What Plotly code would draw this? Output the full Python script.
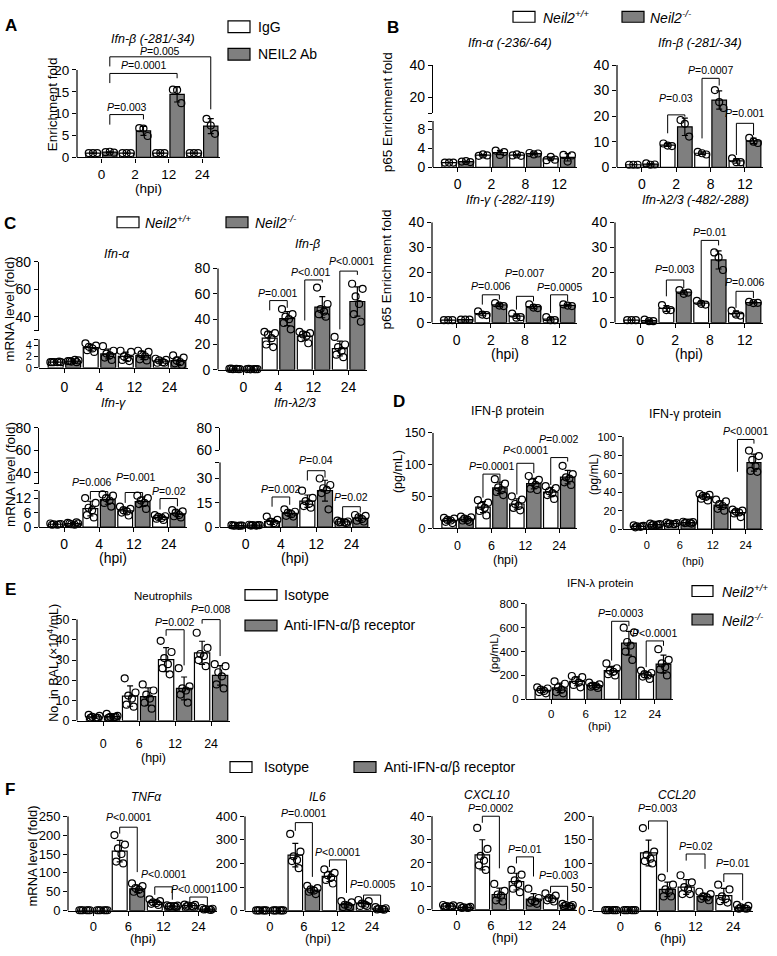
import numpy as np
import plotly.graph_objects as go

W, H = 777, 956
FONT = "Liberation Sans, Arial, Helvetica, sans-serif"
GRAY = "#7f7f7f"
JIT3 = [-0.25, 0.0, 0.25]
JIT6 = [-0.3, 0.3, -0.1, 0.1, -0.2, 0.2]


def fx(px):
    return px / W


def fy(py):
    return 1 - py / H


# ---------------- data ----------------
A_groups = ["0", "2", "12", "24"]
A_igg = [[1.0, 1.0, 1.0], [1.0, 1.0, 1.0], [1.0, 1.0, 1.0], [1.0, 1.0, 1.0]]
A_neil2 = [[1.2, 1.3, 1.1], [6.7, 6.6, 4.9], [15.5, 15.4, 12.4], [8.8, 7.3, 5.4]]
A_br = [(1, 3, 9.8, 7.5, 8.7, "P=0.003"), (1, 5, 19.2, 17.0, 18.1, "P=0.0001"),
        (1, 7, 23.0, 20.8, 11.0, "P=0.005", -2)]

B_groups = ["0", "2", "8", "12"]
B_ifna_wt = [[1.0, 1.0, 1.0], [2.4, 2.7, 2.5], [2.5, 2.7, 2.4], [1.5, 2.2, 1.6]]
B_ifna_ko = [[1.2, 1.3, 1.1], [3.5, 2.6, 3.2], [3.0, 2.7, 2.9], [2.6, 1.2, 2.5]]
B_ifnb_wt = [[1.0, 1.0, 1.0], [9.3, 8.5, 8.3], [6.0, 5.5, 5.0], [3.5, 2.0, 2.0]]
B_ifnb_ko = [[1.5, 1.0, 1.1], [18.5, 17.0, 12.0], [30.2, 25.5, 23.2], [11.5, 10.0, 9.5]]
B_ifnb_br = [(2, 3, 20.5, 13.3, 19.8, "P=0.03", 9), (4, 5, 34.8, 11.3, 32.0, "P=0.0007"),
             (6, 7, 17.2, 4.8, 12.6, "P=0.001", 2)]
B_ifng_wt = [[1.0, 1.0, 1.0], [4.5, 3.2, 3.0], [3.6, 2.0, 2.2], [2.2, 1.0, 1.0]]
B_ifng_ko = [[1.2, 1.2, 1.2], [7.8, 6.8, 6.6], [7.3, 6.0, 5.8], [7.3, 6.8, 6.6]]
B_ifng_br = [(2, 3, 11.1, 7.2, 9.2, "P=0.006", 1), (4, 5, 10.5, 5.2, 8.5, "P=0.007", 15),
             (6, 7, 11.1, 3.9, 8.5, "P=0.0005")]
B_ifnl_wt = [[1.0, 1.0, 1.0], [7.0, 5.0, 5.0], [8.7, 7.5, 7.2], [4.8, 3.2, 2.8]]
B_ifnl_ko = [[1.2, 0.6, 0.6], [13.0, 11.5, 12.0], [28.0, 26.0, 21.0], [8.3, 7.8, 7.9]]
B_ifnl_br = [(2, 3, 17.0, 10.5, 13.8, "P=0.003", 3), (4, 5, 32.8, 7.2, 30.8, "P=0.01"),
             (6, 7, 12.5, 5.9, 9.8, "P=0.006", 1)]

C_groups = ["0", "4", "12", "24"]
C_ifna_wt = [[1.0, 1.0, 1.0, 1.0, 1.0, 1.1], [4.3, 3.9, 3.7, 3.4, 3.1, 2.8],
             [3.0, 2.8, 2.0, 1.7, 1.4, 1.2], [1.6, 1.4, 1.3, 1.0, 0.9, 0.9]]
C_ifna_ko = [[1.2, 1.3, 1.1, 1.4, 1.2, 1.0], [3.8, 3.0, 2.5, 2.2, 1.8, 1.4],
             [3.0, 2.8, 2.4, 2.0, 1.5, 1.3], [2.2, 1.8, 1.3, 1.0, 0.8, 0.5]]
C_ifnb_wt = [[0.8, 0.6, 0.5, 0.7, 0.9, 0.6], [30, 29, 28, 25, 20, 18],
             [30, 29, 28, 27, 25, 21], [26, 20, 18, 15, 12, 10]]
C_ifnb_ko = [[0.6, 0.5, 0.4, 0.6, 0.7, 0.5], [48, 44, 42, 40, 37, 32],
             [65, 52, 48, 46, 44, 42], [68, 64, 58, 52, 44, 38]]
C_ifnb_br = [(2, 3, 54.7, 47, 49, "P=0.001"), (4, 5, 71, 39, 69, "P&lt;0.001", 0, -3),
             (6, 7, 78, 32, 75, "P&lt;0.0001", 2, 3)]
C_ifng_wt = [[1.5, 1.3, 1.2, 1.0, 1.0, 1.2], [12, 10, 8, 7, 5, 4],
             [8.5, 7.5, 7, 6.5, 6, 4.8], [5, 4.5, 4.2, 3.8, 3.5, 3.0]]
C_ifng_ko = [[1.8, 1.5, 1.2, 1.0, 1.5, 2.0], [13.5, 13, 12, 11, 10, 8.5],
             [13, 12, 11, 10, 9.5, 7.5], [7, 6.5, 6, 5, 4.5, 4]]
C_ifng_br = [(2, 3, 14.7, 11.4, 12.6, "P=0.006", 2, -7), (4, 5, 14.3, 10, 12.6, "P=0.001", 7, 2),
             (6, 7, 11.8, 7.3, 8.6, "P=0.02")]
C_ifnl_wt = [[1.2, 1, 1, 0.8, 1, 1], [6.5, 4.5, 3.5, 2.5, 2, 2],
             [22.5, 18, 16, 14.5, 13, 12], [4, 3.5, 3.2, 3, 3, 2.5]]
C_ifnl_ko = [[1.5, 1.3, 1.2, 1, 1, 1.2], [11, 9.5, 9, 8, 7, 6.5],
             [30, 26, 24, 23, 21, 11], [7.5, 7, 6, 5, 4, 3.5]]
C_ifnl_br = [(2, 3, 18.6, 12.6, 13.8, "P=0.002"), (4, 5, 34.8, 28.8, 30.6, "P=0.04", 3),
             (6, 7, 12.6, 4.8, 9.0, "P=0.02", 2)]

D_groups = ["0", "6", "12", "24"]
D_ifnb_wt = [[16, 15, 13, 12, 10, 8], [44, 40, 35, 32, 27, 20],
             [50, 45, 38, 35, 32, 28], [66, 63, 58, 55, 52, 46]]
D_ifnb_ko = [[18, 17, 15, 13, 12, 10], [77, 70, 64, 60, 57, 52],
             [82, 76, 72, 68, 62, 60], [98, 85, 80, 78, 72, 68]]
D_ifnb_br = [(2, 3, 85, 48, 73, "P=0.0001"), (4, 5, 102, 53, 86.5, "P&lt;0.0001", 5),
             (6, 7, 111, 68, 104.7, "P=0.002", 11)]
D_ifng_wt = [[4, 3.5, 3, 2.5, 2, 3], [7, 6.5, 6, 5.5, 5.5, 5.5],
             [38, 37, 36, 35, 33, 31], [21, 20, 19, 18, 17, 13]]
D_ifng_ko = [[6, 5.5, 5, 4.5, 4, 5], [8, 7.5, 7, 7, 6.5, 6],
             [32, 30, 27, 25, 22, 20], [85, 79, 75, 68, 63, 62]]
D_ifng_br = [(6, 7, 97, 62, 92.5, "P&lt;0.0001")]

E_groups = ["0", "6", "12", "24"]
E_iso = [[3, 2.5, 2, 1.5, 1.5, 1.5], [21, 14, 12.5, 11, 8, 7],
         [39.5, 34, 31, 28, 26, 23], [43.5, 36, 33, 32, 30, 27]]
E_anti = [[3.5, 2.5, 2, 1.8, 1.5, 2], [18, 15, 13, 11, 9, 6],
          [26, 17, 16, 15, 13, 9], [28, 27, 24, 22, 18, 16]]
E_br = [(4, 5, 45, 42, 27.4, "P=0.002"), (6, 7, 50, 48, 32, "P=0.008", 3)]

L_groups = ["0", "6", "12", "24"]
L_wt = [[100, 90, 80, 70, 60, 50], [195, 185, 160, 140, 120, 100],
        [300, 260, 240, 230, 210, 200], [240, 220, 210, 200, 190, 170]]
L_ko = [[150, 130, 100, 80, 60, 50], [140, 125, 115, 110, 105, 95],
        [600, 560, 480, 450, 400, 330], [420, 330, 300, 270, 250, 200]]
L_br = [(4, 5, 654, 324, 613, "P=0.0003"), (6, 7, 489, 269, 448, "P&lt;0.0001")]

F_groups = ["0", "6", "12", "24"]
F_tnf_iso = [[1, 1, 1, 1, 1, 1], [200, 175, 165, 150, 130, 125],
             [30, 25, 22, 20, 18, 15], [16, 15, 13, 12, 11, 11]]
F_tnf_anti = [[1, 1, 1, 1, 1, 1], [72, 65, 60, 55, 50, 45],
              [14, 13, 12, 12, 11, 10], [7, 5, 4, 3, 3, 2]]
F_tnf_br = [(2, 3, 221, 204, 102, "P&lt;0.0001", 2), (4, 5, 63, 42, 29, "P&lt;0.0001", 5),
            (6, 7, 36, 20, 13, "P&lt;0.0001", 0, -5)]
F_il6_iso = [[1, 1, 1, 1, 1, 1], [325, 250, 230, 215, 210, 180],
             [175, 160, 150, 140, 130, 115], [45, 40, 30, 25, 20, 20]]
F_il6_anti = [[1, 1, 1, 1, 1, 1], [105, 95, 90, 85, 80, 70],
              [40, 35, 25, 20, 15, 15], [15, 10, 8, 6, 5, 4]]
F_il6_br = [(2, 3, 373, 338, 143, "P=0.0001", 2), (4, 5, 215, 185, 75, "P&lt;0.0001"),
            (6, 7, 66, 38, 24, "P=0.0005", 3)]
F_cx_iso = [[2, 1.8, 1.5, 1.3, 1.2, 1.2], [35, 26, 23, 21, 19, 17],
            [17, 15, 12.5, 11, 9, 7.5], [7, 6, 5, 4.5, 4, 3.5]]
F_cx_anti = [[1.5, 1.2, 1, 0.8, 0.7, 0.8], [11, 8, 6.5, 6, 4, 3.5],
             [9, 5, 4, 3.5, 3, 2.5], [2.5, 2, 2, 1.5, 1.5, 1.3]]
F_cx_br = [(2, 3, 40, 37.2, 17.7, "P=0.0002"), (4, 5, 22.6, 19.8, 14.2, "P=0.01"),
           (6, 7, 10, 7.2, 3.8, "P=0.003", 3)]
F_cc_iso = [[1, 1, 1, 1, 1, 1], [175, 125, 118, 110, 105, 100],
            [75, 60, 50, 45, 35, 35], [55, 45, 30, 25, 20, 17]]
F_cc_anti = [[1, 1, 1, 1, 1, 1], [70, 55, 45, 40, 30, 30],
             [40, 35, 30, 28, 25, 22], [12, 10, 7, 5, 4, 4]]
F_cc_br = [(2, 3, 190, 172, 81.5, "P=0.003", 5), (4, 5, 120, 106, 88.5, "P=0.02"),
           (6, 7, 78, 60.6, 22, "P=0.01", 3)]

# ---------------- construction ----------------
fig = go.Figure()
layout = {}
shapes = []
annotations = []
cnt = {"x": 0, "y": 0}


def new_ax(kind):
    cnt[kind] += 1
    n = cnt[kind]
    return (kind if n == 1 else f"{kind}{n}"), (f"{kind}axis" if n == 1 else f"{kind}axis{n}")


def fmt(v):
    return str(int(v)) if float(v).is_integer() else str(v)


def ax_common(fs):
    return dict(showgrid=False, zeroline=False, ticks="outside", ticklen=4, tickwidth=1.2,
                tickcolor="black", linecolor="black", linewidth=1.2, fixedrange=True,
                tickfont=dict(size=fs, color="black"))


def panel(left, right, bottom, spine_px, spine_top, ymax, yticks, groups, wt, ko, brackets,
          lower_break=False, upper=None, tick_off=0, hpi_off=None, fs=13.5, yfs=None):
    yfs = fs if yfs is None else yfs
    xr, xkey = new_ax("x")
    yr, ykey = new_ax("y")
    top = bottom - (bottom - spine_px) * ymax / spine_top
    layout[xkey] = dict(ax_common(fs), domain=[fx(left), fx(right)], range=[-0.95, 7.55],
                        anchor=yr, tickvals=[0.5, 2.5, 4.5, 6.5], ticktext=groups,
                        showline=True, ticklabelstandoff=tick_off)
    tv = list(yticks)
    tt = [fmt(v) for v in yticks]
    if lower_break:
        tv.append(spine_top)
        tt.append(" ")
    layout[ykey] = dict(ax_common(yfs), domain=[fy(bottom), fy(top)], range=[0, ymax],
                        anchor=xr, tickvals=tv, ticktext=tt, showline=False)
    shapes.append(dict(type="line", xref=f"{xr} domain", x0=0, x1=0, yref=yr, y0=0, y1=spine_top,
                       line=dict(color="black", width=1.2)))
    for si, (series, fill) in enumerate([(wt, "white"), (ko, GRAY)]):
        xs = [2 * g + si for g in range(len(series))]
        means = [float(np.mean(p)) for p in series]
        sds = [float(np.std(p, ddof=1)) for p in series]
        fig.add_trace(go.Bar(x=xs, y=means, width=0.85, xaxis=xr, yaxis=yr,
                             marker=dict(color=fill, line=dict(color="black", width=1.2)),
                             error_y=dict(type="data", array=sds, color="black", thickness=1.2, width=3),
                             showlegend=False, hoverinfo="skip"))
    for si, series in enumerate([wt, ko]):
        px_, py_ = [], []
        for g, pts in enumerate(series):
            jit = JIT3 if len(pts) == 3 else JIT6
            for j, v in enumerate(pts):
                px_.append(2 * g + si + jit[j])
                py_.append(v)
        fig.add_trace(go.Scatter(x=px_, y=py_, mode="markers", xaxis=xr, yaxis=yr, cliponaxis=False,
                                 marker=dict(symbol="circle-open", size=7, color="black",
                                             line=dict(width=1.2, color="black")),
                                 showlegend=False, hoverinfo="skip"))
    for br in brackets:
        i, j, lev, le, re_, lab = br[:6]
        dy = br[6] if len(br) > 6 else 0
        dx = br[7] if len(br) > 7 else 0
        shapes.append(dict(type="path", xref=xr, yref=yr,
                           path=f"M {i},{le} L {i},{lev} L {j},{lev} L {j},{re_}",
                           line=dict(color="black", width=1)))
        annotations.append(dict(x=(i + j) / 2, y=lev, xref=xr, yref=yr, xanchor="center",
                                yanchor="bottom", yshift=dy, xshift=dx, showarrow=False,
                                text="<i>P</i>" + lab[1:], font=dict(size=10.5)))
    if upper is not None:
        ulo, uhi, ubot, utop, uticks, ubreak = upper
        uy, ukey = new_ax("y")
        utv = list(uticks)
        utt = [fmt(v) for v in uticks]
        if ubreak:
            utv.insert(0, ulo)
            utt.insert(0, " ")
        layout[ukey] = dict(ax_common(fs), domain=[fy(ubot), fy(utop)], range=[ulo, uhi],
                            anchor=xr, tickvals=utv, ticktext=utt, showline=True)
        fig.add_trace(go.Scatter(x=[None], y=[None], xaxis=xr, yaxis=uy, showlegend=False,
                                 hoverinfo="skip"))
    if hpi_off is not None:
        annotations.append(dict(x=0.5, xref=f"{xr} domain", y=fy(bottom + hpi_off),
                                yref="paper", text="(hpi)", showarrow=False, xanchor="center",
                                yanchor="middle", font=dict(size=fs)))


# A
panel(77, 220, 152, 63, 20, 24, [0, 5, 10, 15, 20], A_groups, A_igg, A_neil2, A_br, hpi_off=32, fs=13.5)
# B
panel(433, 577, 162, 115, 9.7, 9.7, [0, 4, 8], B_groups, B_ifna_wt, B_ifna_ko, [],
      lower_break=True, upper=(10.3, 40, 107, 58, [20, 40], True), fs=14)
panel(617, 763, 162, 58, 40, 40, [0, 10, 20, 30, 40], B_groups, B_ifnb_wt, B_ifnb_ko, B_ifnb_br, fs=14)
panel(432, 577, 320, 218, 40, 40, [0, 10, 20, 30, 40], B_groups, B_ifng_wt, B_ifng_ko, B_ifng_br,
      hpi_off=32, fs=14)
panel(615, 763, 320, 218, 40, 40, [0, 10, 20, 30, 40], B_groups, B_ifnl_wt, B_ifnl_ko, B_ifnl_br,
      hpi_off=32, fs=14)
# C
panel(39, 188, 366, 337, 5, 5, [0, 2, 4], C_groups, C_ifna_wt, C_ifna_ko, [],
      lower_break=True, upper=(30, 80, 328, 258, [40, 60, 80], True), tick_off=2, fs=14, yfs=11)
panel(218, 367, 368, 265, 80, 86, [0, 20, 40, 60, 80], C_groups, C_ifnb_wt, C_ifnb_ko, C_ifnb_br, fs=14)
panel(39, 187, 528, 491, 15, 15.3, [0, 6, 12], C_groups, C_ifng_wt, C_ifng_ko, C_ifng_br,
      lower_break=True, upper=(30, 80, 484, 427, [40, 60, 80], True), hpi_off=31, fs=14)
panel(220, 370, 528, 462, 40, 40, [0, 15, 30], C_groups, C_ifnl_wt, C_ifnl_ko, C_ifnl_br,
      lower_break=True, upper=(60, 80, 450, 427, [60, 80], False), hpi_off=31, fs=14)
# D
panel(433, 577, 529, 432, 150, 150, [0, 50, 100, 150], D_groups, D_ifnb_wt, D_ifnb_ko, D_ifnb_br,
      tick_off=2, hpi_off=32, fs=12.5)
panel(623, 763, 530, 436, 100, 100, [0, 20, 40, 60, 80, 100], D_groups, D_ifng_wt, D_ifng_ko,
      D_ifng_br, tick_off=2, hpi_off=32, fs=11)
# E
panel(77, 230, 725, 622, 50, 51.5, [0, 10, 20, 30, 40, 50], E_groups, E_iso, E_anti, E_br,
      tick_off=7, hpi_off=38, fs=12.5)
panel(526, 673, 703, 606, 800, 800, [0, 200, 400, 600, 800], L_groups, L_wt, L_ko, L_br,
      hpi_off=27, fs=11.5)
# F
panel(68, 217, 918, 822, 250, 250, [0, 50, 100, 150, 200, 250], F_groups, F_tnf_iso, F_tnf_anti,
      F_tnf_br, hpi_off=28, fs=13)
panel(245, 390, 918, 822, 400, 400, [0, 100, 200, 300, 400], F_groups, F_il6_iso, F_il6_anti,
      F_il6_br, hpi_off=28, fs=13)
panel(432, 577, 917, 822, 40, 41, [0, 10, 20, 30, 40], F_groups, F_cx_iso, F_cx_anti, F_cx_br,
      hpi_off=28, fs=13)
panel(593, 753, 918, 822, 200, 200, [0, 50, 100, 150, 200], F_groups, F_cc_iso, F_cc_anti,
      F_cc_br, hpi_off=28, fs=13)


def text_at(txt, x, y, size=12, angle=0, anchor="center", bold=False):
    if bold:
        txt = f"<b>{txt}</b>"
    annotations.append(dict(text=txt, x=fx(x), y=fy(y), xref="paper", yref="paper",
                            xanchor=anchor, yanchor="middle", showarrow=False, textangle=angle,
                            font=dict(size=size, color="black")))


# panel letters
for lab, x, y in [("A", 11, 18), ("B", 393, 20), ("C", 10, 219), ("D", 399, 400),
                  ("E", 10, 591), ("F", 10, 795)]:
    text_at(lab, x, y, size=17, bold=True)

# subplot titles
titles = [("<i>Ifn-β (-281/-34)</i>", 153, 32, 12.5), ("<i>Ifn-α (-236/-64)</i>", 510, 36, 12.5),
          ("<i>Ifn-β (-281/-34)</i>", 700, 36, 12.5), ("<i>Ifn-γ (-282/-119)</i>", 510, 195, 12.5),
          ("<i>Ifn-λ2/3 (-482/-288)</i>", 695, 195, 12.5), ("<i>Ifn-α</i>", 117, 250, 12.5),
          ("<i>Ifn-β</i>", 307, 240, 12.5), ("<i>Ifn-γ</i>", 113, 402, 12.5),
          ("<i>Ifn-λ2/3</i>", 295, 402, 12.5), ("IFN-β protein", 508, 410, 12.5),
          ("IFN-γ protein", 685, 413, 12.5), ("Neutrophils", 163, 598, 11.5),
          ("IFN-λ protein", 600, 585, 11.5), ("<i>TNFα</i>", 146, 802, 12),
          ("<i>IL6</i>", 317, 802, 12), ("<i>CXCL10</i>", 487, 800, 12),
          ("<i>CCL20</i>", 677, 800, 12)]
for t, x, y, s in titles:
    text_at(t, x, y, size=s)

# y-axis titles
ytitles = [("Enrichment fold", 52, 98, 13.5), ("p65 Enrichment fold", 387, 106, 13.5),
           ("p65 Enrichment fold", 387, 266, 13.5), ("mRNA level (fold)", 10, 307, 13.5),
           ("mRNA level (fold)", 10, 475, 13.5), ("(pg/mL)", 398, 472, 12.5),
           ("(pg/mL)", 594, 475, 12), ("No. in BAL (×10<sup>4</sup>/mL)", 53, 666, 12.5),
           ("(pg/mL)", 494, 656, 11.5), ("mRNA level (fold)", 33, 863, 13)]
for t, x, y, s in ytitles:
    text_at(t, x, y, size=s, angle=-90)

# legends
WT_LAB = "<i>Neil2<sup>+/+</sup></i>"
KO_LAB = "<i>Neil2<sup>-/-</sup></i>"
legend_items = [(228, 19, 22, 12, "white", "IgG", 256), (228, 47, 22, 12, GRAY, "NEIL2 Ab", 256),
                (513, 9, 22, 11, "white", WT_LAB, 541), (622, 9, 22, 11, GRAY, KO_LAB, 648),
                (117, 218, 22, 11, "white", WT_LAB, 143), (226, 218, 22, 11, GRAY, KO_LAB, 253),
                (245, 597, 32, 11, "white", "Isotype", 282),
                (245, 628, 32, 11, GRAY, "Anti-IFN-α/β receptor", 282),
                (692, 593, 21, 11, "white", WT_LAB, 720), (692, 622, 21, 11, GRAY, KO_LAB, 720),
                (230, 772, 22, 11, "white", "Isotype", 262),
                (354, 772, 22, 11, GRAY, "Anti-IFN-α/β receptor", 382)]
for x0, yc, w, h, fill, txt, tx in legend_items:
    shapes.append(dict(type="rect", xref="paper", yref="paper", x0=fx(x0), x1=fx(x0 + w),
                       y0=fy(yc + h / 2), y1=fy(yc - h / 2), fillcolor=fill,
                       line=dict(color="black", width=1.2)))
    text_at(txt, tx, yc, size=14, anchor="left")

fig.update_layout(width=W, height=H, margin=dict(l=0, r=0, t=0, b=0), paper_bgcolor="white",
                  plot_bgcolor="rgba(0,0,0,0)", font=dict(family=FONT, color="black"),
                  barmode="overlay", showlegend=False, shapes=shapes, annotations=annotations,
                  **layout)
fig.write_html("out.html", config={"displayModeBar": False},
               post_script="document.body.style.margin='0px';document.body.style.padding='0px';"
                           "document.documentElement.style.overflow='hidden';")
